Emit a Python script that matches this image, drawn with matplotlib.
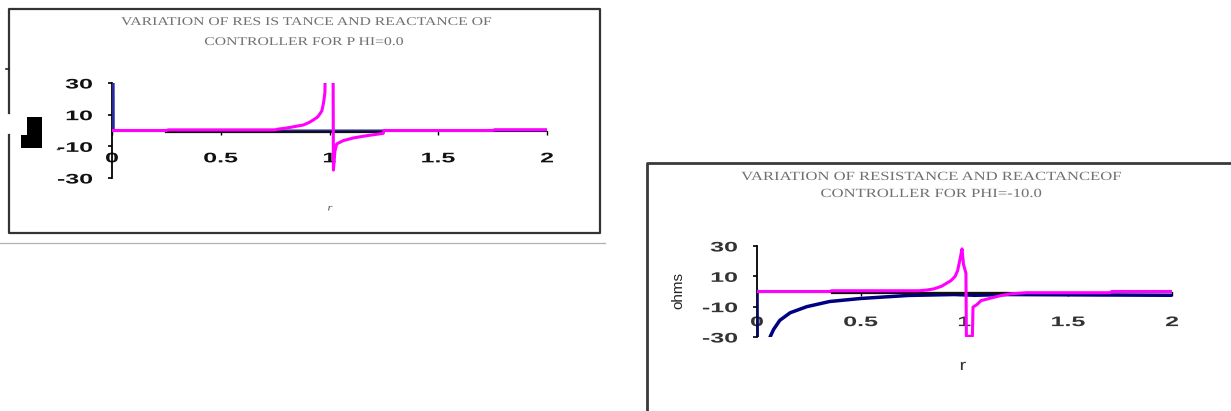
import numpy as np
import matplotlib
matplotlib.use("Agg")
import matplotlib.pyplot as plt
from matplotlib.lines import Line2D
from matplotlib.patches import Polygon
from matplotlib.patheffects import AbstractPathEffect
from matplotlib.transforms import Affine2D

# data (r vs ohms)
x_ticks = [0, 0.5, 1, 1.5, 2]
x_tick_labels = ["0", "0.5", "1", "1.5", "2"]
y_ticks = [-30, -10, 10, 30]
y_tick_labels = ["-30", "-10", "10", "30"]

# chart 1: PHI = 0.0
left_r_X = [0.0, 0.25, 0.26, 0.75, 0.76, 0.80, 0.84, 0.88, 0.905, 0.925, 0.945, 0.956,
            0.965, 0.972, 0.979, 0.99, 1.016, 1.018, 1.025, 1.033, 1.063, 1.11, 1.17,
            1.247, 1.25, 1.75, 1.76, 2.0]
left_X = [0.0, 0.0, 0.4, 0.4, 0.8, 1.5, 2.5, 3.5, 5.0, 6.6, 8.5, 10.5,
          12.5, 17.0, 24.0, 150.0, 60.0, -25.0, -13.0, -8.5, -6.4, -4.7, -3.3,
          -1.8, 0.0, 0.0, 0.5, 0.5]
left_r_R = [0.0, 0.004, 0.008, 2.0]
left_R = [0.0, 200.0, 0.0, 0.0]
left_r_base = [0.25, 1.24]
left_base = [-1.2, -1.2]

# chart 2: PHI = -10.0
right_r_X = [0.0, 0.35, 0.36, 0.78, 0.82, 0.854, 0.89, 0.935, 0.955, 0.967, 0.979, 0.988,
             0.995, 1.003, 1.007, 1.009, 1.038, 1.041, 1.06, 1.08, 1.12, 1.177, 1.225,
             1.3, 1.7, 1.71, 2.0]
right_X = [0.0, 0.0, 0.5, 0.5, 1.0, 1.8, 3.5, 7.2, 10.0, 13.8, 21.7, 28.1,
           18.0, 14.0, 12.0, -29.5, -29.5, -10.3, -8.6, -6.0, -4.6, -2.6, -1.5,
           -0.8, -0.8, 0.0, 0.0]
right_r_R = [0.0, 0.01, 0.03, 0.05, 0.063, 0.08, 0.11, 0.16, 0.24, 0.35, 0.5, 0.73,
             0.95, 1.05, 1.2, 1.5, 2.0]
right_R = [0.0, -300.0, -100.0, -50.0, -30.0, -25.0, -19.0, -14.0, -10.0, -6.6, -4.6, -2.6,
           -2.0, -2.5, -2.0, -2.2, -2.5]
right_r_base = [0.36, 1.21]
right_base = [-0.8, -0.8]

W, H = 1231, 411


class Widen(AbstractPathEffect):
    # the pasted charts are stretched sideways, so widen glyphs the same way
    def __init__(self, sx=1.0, anchor="center"):
        super().__init__()
        self.sx = sx
        self.anchor = anchor

    def draw_path(self, renderer, gc, tpath, affine, rgbFace=None):
        ext = tpath.get_extents(affine)
        if self.anchor == "right":
            cx = ext.x1
        elif self.anchor == "left":
            cx = ext.x0
        else:
            cx = (ext.x0 + ext.x1) / 2
        affine = affine + Affine2D().translate(-cx, 0).scale(self.sx, 1).translate(cx, 0)
        renderer.draw_path(gc, tpath, affine, rgbFace)


def fx(x):
    return x / W


def fy(y):
    return 1 - y / H


fig = plt.figure(figsize=(W / 100, H / 100), dpi=100)


def fig_line(xs, ys, **kw):
    fig.add_artist(Line2D([fx(v) for v in xs], [fy(v) for v in ys],
                          transform=fig.transFigure, **kw))


def fig_text(x, y, s, size, family, color, sx=1.0, **kw):
    t = fig.text(fx(x), fy(y), s, ha="center", va="center", fontsize=size,
                 family=family, color=color, **kw)
    t.set_path_effects([Widen(sx, "center")])
    return t


def make_axes(left, right, top, bottom, tcolor, sx, xpad):
    ax = fig.add_axes([fx(left), fy(bottom), (right - left) / W, (bottom - top) / H])
    ax.set_xlim(0, 2)
    ax.set_ylim(-30, 30)
    ax.patch.set_visible(False)
    ax.spines["top"].set_visible(False)
    ax.spines["right"].set_visible(False)
    ax.spines["left"].set_position(("data", 0))
    ax.spines["bottom"].set_position(("data", 0))
    ax.spines["left"].set_linewidth(1.3)
    ax.spines["bottom"].set_linewidth(0.8)
    ax.set_xticks(x_ticks)
    ax.set_xticklabels(x_tick_labels)
    ax.set_yticks(y_ticks)
    ax.set_yticklabels(y_tick_labels)
    ax.tick_params(axis="x", direction="out", length=3, width=1, pad=xpad)
    ax.tick_params(axis="y", direction="out", length=3, width=1.2, pad=11)
    for lab in ax.get_xticklabels():
        lab.set_fontfamily("Liberation Sans")
        lab.set_fontsize(10)
        lab.set_fontweight("bold")
        lab.set_color(tcolor)
        lab.set_path_effects([Widen(sx, "center")])
    for lab in ax.get_yticklabels():
        lab.set_fontfamily("Liberation Sans")
        lab.set_fontsize(10)
        lab.set_fontweight("bold")
        lab.set_color(tcolor)
        lab.set_path_effects([Widen(sx, "right")])
    return ax


# ---- left chart ----
fig_line([9, 9, 600, 600, 9, 9], [113, 9, 9, 233, 233, 135], color="#333333", lw=1.6)
fig_line([6, 9], [69, 69], color="#222222", lw=1.2)
fig_line([0, 605], [243, 243], color="#b0b0b0", lw=0.9)
fig.add_artist(Polygon([(fx(27), fy(117)), (fx(42), fy(117)), (fx(42), fy(148)),
                        (fx(21), fy(148)), (fx(21), fy(135)), (fx(27), fy(135))],
                       closed=True, transform=fig.transFigure, fc="black", ec="none"))
fig_line([57, 59], [149, 149], color="#444444", lw=1)

fig_text(306, 22, "VARIATION OF RES IS TANCE AND REACTANCE OF", 8.5, "Liberation Serif", "#707070", 1.33)
fig_text(304, 42, "CONTROLLER FOR P HI=0.0", 8.5, "Liberation Serif", "#707070", 1.33)
fig_text(330, 208, "r", 7, "Liberation Serif", "#555555", 1.3, style="italic")

ax1 = make_axes(112, 547, 83, 178, "#111111", 1.8, 12)
ax1.plot(left_r_R, left_R, color="#2a2aa0", lw=1.5, zorder=3)
ax1.plot(left_r_base, left_base, color="#111111", lw=1.6, zorder=3)
ax1.plot(left_r_X, left_X, color="#ff00ff", lw=2.2, zorder=4)

# ---- right chart ----
fig_line([647, 647, 1235], [415, 163, 163], color="#3a3a3a", lw=2)

fig_text(931, 177, "VARIATION OF RESISTANCE AND REACTANCEOF", 9, "Liberation Serif", "#707070", 1.33)
fig_text(931, 194, "CONTROLLER FOR PHI=-10.0", 9, "Liberation Serif", "#707070", 1.33)
fig_text(963, 366, "r", 11, "Liberation Sans", "#333333", 1.3)
fig.text(fx(678), fy(290), "ohms", ha="center", va="center", rotation=90,
         fontsize=11, family="Liberation Sans", color="#222222")

ax2 = make_axes(757, 1172, 246, 337, "#333333", 1.8, 14)
ax2.plot(right_r_R, right_R, color="#000080", lw=2.5, zorder=3)
ax2.plot(right_r_base, right_base, color="#111111", lw=1.6, zorder=3)
ax2.plot(right_r_X, right_X, color="#ff00ff", lw=2.2, zorder=4)

fig.savefig("out.png", dpi=100)
